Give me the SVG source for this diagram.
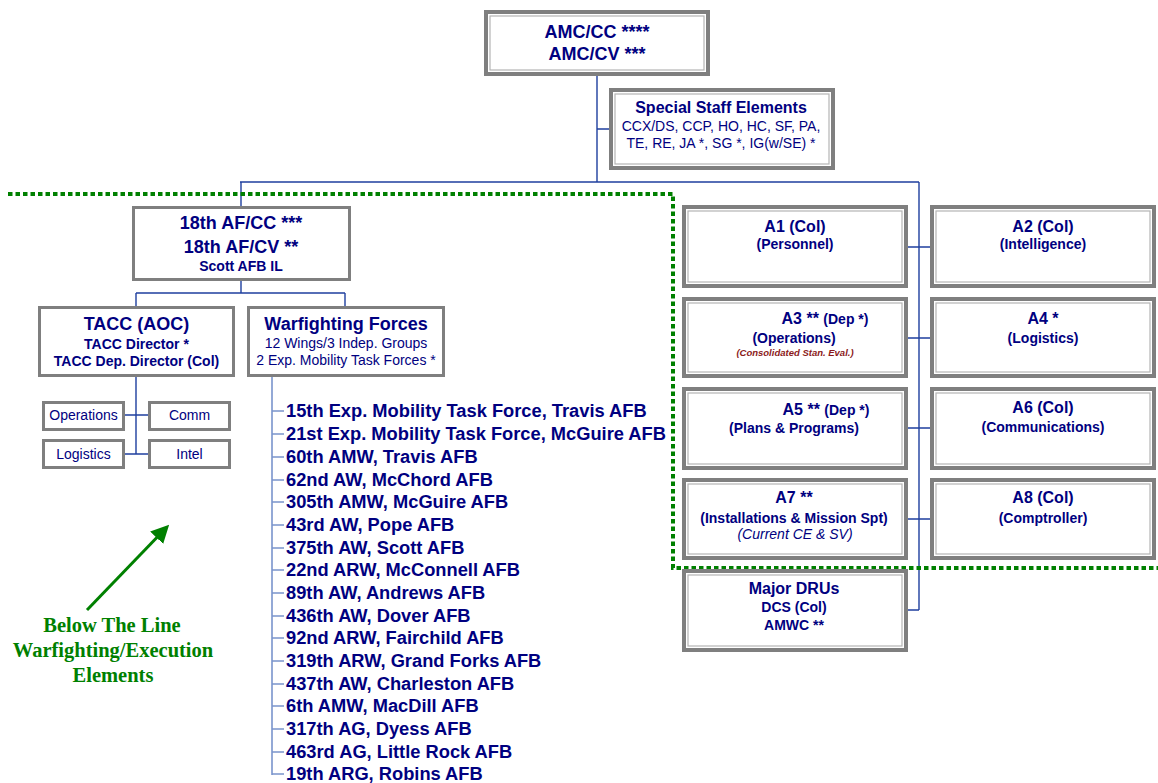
<svg xmlns="http://www.w3.org/2000/svg" width="1158" height="783" viewBox="0 0 1158 783">
<style>
.o{fill:#fff;stroke:#7f7f7f;stroke-width:4}
.i{fill:none;stroke:#b4b4b4;stroke-width:1.2}
.s{fill:#fff;stroke:#7f7f7f;stroke-width:3}
text{font-family:"Liberation Sans",Arial,sans-serif;fill:#000080;text-anchor:middle}
.b{font-weight:bold}
.w{font-weight:bold;font-size:18.3px;text-anchor:start}
.c{fill:none;stroke:#1f3f9f;stroke-width:1.4}
.l{fill:none;stroke:#7a94cc;stroke-width:1.6}
.g{fill:none;stroke:#008000;stroke-width:4;stroke-dasharray:4.5 3}
.gt{font-family:"Liberation Serif","Times New Roman",serif;font-weight:bold;font-size:20.5px;fill:#008000}
</style>
<defs>
<marker id="ah" markerWidth="6" markerHeight="6" refX="4.5" refY="3" orient="auto" markerUnits="strokeWidth">
<path d="M0,0 L6,3 L0,6 z" fill="#008000"/>
</marker>
</defs>
<rect width="1158" height="783" fill="#fff"/>
<g id="connectors">
<path class="c" d="M597 76V182M597 129H609M240 182H919M241 182V206M919 182V610M908 247H930M908 338H930M908 428H930M908 519H930M908 610H919M241 281V293M136 293H345M136 293V306M345 293V306M136 377V454M125 415H148M125 454H148"/>
<path class="l" d="M272 377V775M272 411H284M272 434H284M272 457H284M272 480H284M272 502H284M272 525H284M272 548H284M272 570H284M272 593H284M272 616H284M272 638H284M272 661H284M272 684H284M272 706H284M272 729H284M272 752H284M272 774H284"/>
</g>
<g id="line">
<path class="g" d="M8 194H673V568H1158"/>
</g>
<g id="amc">
<rect class="o" x="486" y="12" width="222" height="62"/>
<rect class="i" x="490" y="16" width="214" height="54"/>
<text class="b" x="597" y="38" font-size="18">AMC/CC ****</text>
<text class="b" x="597" y="60" font-size="18">AMC/CV ***</text>
</g>
<g id="special">
<rect class="o" x="611" y="90" width="222" height="78"/>
<rect class="i" x="615" y="94" width="214" height="70"/>
<text class="b" x="721" y="113" font-size="16">Special Staff Elements</text>
<text x="721" y="131" font-size="14">CCX/DS, CCP, HO, HC, SF, PA,</text>
<text x="721" y="148" font-size="14">TE, RE, JA *, SG *, IG(w/SE) *</text>
</g>
<g id="af18">
<rect class="s" x="133.5" y="207.5" width="216" height="72"/>
<text class="b" x="241" y="229" font-size="18">18th AF/CC ***</text>
<text class="b" x="241" y="253" font-size="18">18th AF/CV **</text>
<text class="b" x="241" y="271" font-size="14">Scott AFB IL</text>
</g>
<g id="tacc">
<rect class="s" x="39.5" y="307.5" width="194" height="68"/>
<text class="b" x="136.5" y="330" font-size="18">TACC (AOC)</text>
<text class="b" x="136.5" y="349" font-size="14">TACC Director *</text>
<text class="b" x="136.5" y="366" font-size="14">TACC Dep. Director (Col)</text>
</g>
<g id="warfighting">
<rect class="s" x="248.5" y="307.5" width="195" height="68"/>
<text class="b" x="346" y="330" font-size="18">Warfighting Forces</text>
<text x="346" y="348" font-size="14">12 Wings/3 Indep. Groups</text>
<text x="346" y="365" font-size="14">2 Exp. Mobility Task Forces *</text>
</g>
<g id="ops">
<rect class="s" x="43.5" y="402.5" width="80" height="27"/>
<text x="83.5" y="420" font-size="14">Operations</text>
</g>
<g id="comm">
<rect class="s" x="149.5" y="402.5" width="80" height="27"/>
<text x="189.5" y="420" font-size="14">Comm</text>
</g>
<g id="log">
<rect class="s" x="43.5" y="440.5" width="80" height="27"/>
<text x="83.5" y="459" font-size="14">Logistics</text>
</g>
<g id="intel">
<rect class="s" x="149.5" y="440.5" width="80" height="27"/>
<text x="189.5" y="459" font-size="14">Intel</text>
</g>
<g id="units">
<text class="w" x="286" y="417">15th Exp. Mobility Task Force, Travis AFB</text>
<text class="w" x="286" y="440">21st Exp. Mobility Task Force, McGuire AFB</text>
<text class="w" x="286" y="463">60th AMW, Travis AFB</text>
<text class="w" x="286" y="486">62nd AW, McChord AFB</text>
<text class="w" x="286" y="508">305th AMW, McGuire AFB</text>
<text class="w" x="286" y="531">43rd AW, Pope AFB</text>
<text class="w" x="286" y="554">375th AW, Scott AFB</text>
<text class="w" x="286" y="576">22nd ARW, McConnell AFB</text>
<text class="w" x="286" y="599">89th AW, Andrews AFB</text>
<text class="w" x="286" y="622">436th AW, Dover AFB</text>
<text class="w" x="286" y="644">92nd ARW, Fairchild AFB</text>
<text class="w" x="286" y="667">319th ARW, Grand Forks AFB</text>
<text class="w" x="286" y="690">437th AW, Charleston AFB</text>
<text class="w" x="286" y="712">6th AMW, MacDill AFB</text>
<text class="w" x="286" y="735">317th AG, Dyess AFB</text>
<text class="w" x="286" y="758">463rd AG, Little Rock AFB</text>
<text class="w" x="286" y="780">19th ARG, Robins AFB</text>
</g>
<g id="a1">
<rect class="o" x="684" y="207" width="222" height="79"/>
<rect class="i" x="688" y="211" width="214" height="71"/>
<text class="b" x="795" y="232" font-size="16">A1 (Col)</text>
<text class="b" x="795" y="249" font-size="14">(Personnel)</text>
</g>
<g id="a2">
<rect class="o" x="932" y="207" width="222" height="79"/>
<rect class="i" x="936" y="211" width="214" height="71"/>
<text class="b" x="1043" y="232" font-size="16">A2 (Col)</text>
<text class="b" x="1043" y="249" font-size="14">(Intelligence)</text>
</g>
<g id="a3">
<rect class="o" x="684" y="299" width="222" height="77"/>
<rect class="i" x="688" y="303" width="214" height="69"/>
<text class="b" x="825" y="324" font-size="16">A3 ** <tspan font-size="14">(Dep *)</tspan></text>
<text class="b" x="794" y="343" font-size="14">(Operations)</text>
<text class="b" x="795" y="356" font-size="9.5" font-style="italic" style="fill:#8b1a1a">(Consolidated Stan. Eval.)</text>
</g>
<g id="a4">
<rect class="o" x="932" y="299" width="222" height="77"/>
<rect class="i" x="936" y="303" width="214" height="69"/>
<text class="b" x="1043" y="324" font-size="16">A4 *</text>
<text class="b" x="1043" y="343" font-size="14">(Logistics)</text>
</g>
<g id="a5">
<rect class="o" x="684" y="389" width="222" height="79"/>
<rect class="i" x="688" y="393" width="214" height="71"/>
<text class="b" x="826" y="415" font-size="16">A5 ** <tspan font-size="14">(Dep *)</tspan></text>
<text class="b" x="794" y="433" font-size="14">(Plans &amp; Programs)</text>
</g>
<g id="a6">
<rect class="o" x="932" y="389" width="222" height="79"/>
<rect class="i" x="936" y="393" width="214" height="71"/>
<text class="b" x="1043" y="413" font-size="16">A6 (Col)</text>
<text class="b" x="1043" y="432" font-size="14">(Communications)</text>
</g>
<g id="a7">
<rect class="o" x="684" y="480" width="222" height="78"/>
<rect class="i" x="688" y="484" width="214" height="70"/>
<text class="b" x="794" y="503" font-size="16">A7 **</text>
<text class="b" x="794" y="523" font-size="14">(Installations &amp; Mission Spt)</text>
<text x="795" y="539" font-size="14" font-style="italic">(Current CE &amp; SV)</text>
</g>
<g id="a8">
<rect class="o" x="932" y="480" width="222" height="78"/>
<rect class="i" x="936" y="484" width="214" height="70"/>
<text class="b" x="1043" y="503" font-size="16">A8 (Col)</text>
<text class="b" x="1043" y="523" font-size="14">(Comptroller)</text>
</g>
<g id="dru">
<rect class="o" x="684" y="571" width="222" height="79"/>
<rect class="i" x="688" y="575" width="214" height="71"/>
<text class="b" x="794" y="594" font-size="16">Major DRUs</text>
<text class="b" x="794" y="612" font-size="14">DCS (Col)</text>
<text class="b" x="794" y="630" font-size="14">AMWC **</text>
</g>
<g id="note">
<path d="M87 610L166 528" fill="none" stroke="#008000" stroke-width="3" marker-end="url(#ah)"/>
<text class="gt" x="112" y="632">Below The Line</text>
<text class="gt" x="113" y="657">Warfighting/Execution</text>
<text class="gt" x="113" y="682">Elements</text>
</g>
</svg>
